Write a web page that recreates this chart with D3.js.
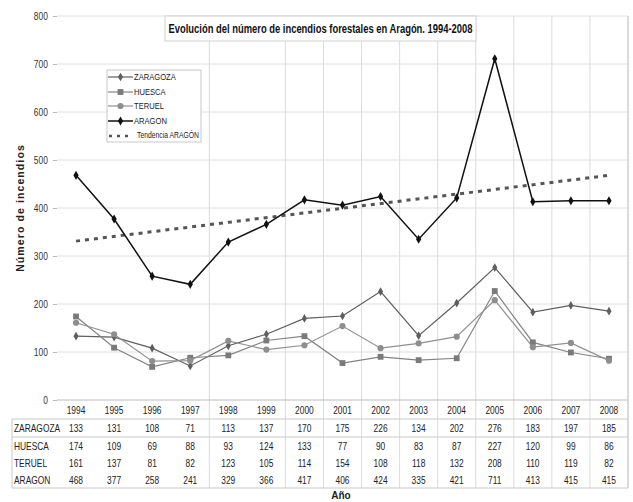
<!DOCTYPE html>
<html>
<head>
<meta charset="utf-8">
<script src="https://cdn.jsdelivr.net/npm/d3@7/dist/d3.min.js"></script>
<style>
  html, body { margin: 0; padding: 0; background: #fff; }
  svg { display: block; }
  text { font-family: "Liberation Sans", Arial, sans-serif; }
</style>
</head>
<body>
<svg id="chart" width="633" height="502"></svg>
<script>
// Forest fire counts per province, 1994-2008
const years = ["1994","1995","1996","1997","1998","1999","2000","2001","2002","2003","2004","2005","2006","2007","2008"];
const zaragoza = [133,131,108,71,113,137,170,175,226,134,202,276,183,197,185];
const huesca   = [174,109,69,88,93,124,133,77,90,83,87,227,120,99,86];
const teruel   = [161,137,81,82,123,105,114,154,108,118,132,208,110,119,82];
const aragon   = [468,377,258,241,329,366,417,406,424,335,421,711,413,415,415];
// Linear trend of the ARAGON series at the first and last year
const trendAragon = [331, 468];
const yTicks = [0,100,200,300,400,500,600,700,800];
// Category boundaries (by index) that carry a vertical grid line
const gridBoundaries = [4,6,7,8,9,10,11,12,13,14,15];

const seriesNames = ["ZARAGOZA","HUESCA","TERUEL","ARAGON"];
const seriesValues = [zaragoza, huesca, teruel, aragon];
const seriesStyle = [
  {line:"#5e5e5e", fill:"#5e5e5e", width:1.2, marker:"diamond", size:22},
  {line:"#838383", fill:"#7a7a7a", width:1.2, marker:"square", size:34},
  {line:"#909090", fill:"#8e8e8e", width:1.2, marker:"circle", size:30},
  {line:"#111111", fill:"#111111", width:1.5, marker:"diamond", size:24}
];
const symbolType = {diamond: d3.symbolDiamond, square: d3.symbolSquare, circle: d3.symbolCircle};

const svg = d3.select("#chart");
const plotL = 57, plotR = 628, plotT = 16, plotB = 400;
const tableTop = 419, tableBottom = 488, tableLeft = 12;
const NARROW = 0.84;

// Condense a text element horizontally around its own x anchor
function narrow(sel, s = NARROW) {
  sel.each(function () {
    const t = d3.select(this);
    const ax = +t.attr("x") || 0;
    t.attr("transform", `translate(${ax * (1 - s)},0) scale(${s},1)`);
  });
}

const x = d3.scaleBand().domain(years).range([plotL, plotR]);
const y = d3.scaleLinear().domain([0, 800]).range([plotB, plotT]);
const cx = d => x(d) + x.bandwidth() / 2;

// Horizontal grid lines
svg.append("g").selectAll("line").data(yTicks.filter(t => t > 0)).join("line")
  .attr("x1", plotL).attr("x2", plotR)
  .attr("y1", d => y(d)).attr("y2", d => y(d))
  .attr("stroke", "#dedede").attr("stroke-width", 1);

// Vertical grid lines running down through the data table
svg.append("g").selectAll("line").data(gridBoundaries).join("line")
  .attr("x1", i => plotL + i * x.bandwidth()).attr("x2", i => plotL + i * x.bandwidth())
  .attr("y1", plotT).attr("y2", tableBottom)
  .attr("stroke", "#dcdcdc").attr("stroke-width", 1);

// Y axis
const yAxis = svg.append("g").attr("transform", `translate(${plotL},0)`)
  .call(d3.axisLeft(y).tickValues(yTicks).tickSize(4).tickPadding(1));
yAxis.select(".domain").remove();
yAxis.selectAll(".tick line").attr("stroke", "#bbb");
yAxis.selectAll(".tick text").attr("font-size", 10).attr("fill", "#333")
  .attr("transform", `translate(-5,0) scale(${NARROW},1)`);
// zero line
svg.append("line").attr("x1", plotL).attr("x2", plotR).attr("y1", y(0)).attr("y2", y(0))
  .attr("stroke", "#bbb");

// Y axis title
svg.append("text")
  .attr("transform", `translate(24,${(plotT + plotB) / 2}) rotate(-90)`)
  .attr("text-anchor", "middle")
  .attr("font-size", 10.5).attr("font-weight", "bold")
  .attr("letter-spacing", 1.1).attr("fill", "#222")
  .text("Número de incendios");

// Trend line
svg.append("line")
  .attr("x1", cx(years[0])).attr("y1", y(trendAragon[0]))
  .attr("x2", cx(years[years.length - 1])).attr("y2", y(trendAragon[1]))
  .attr("stroke", "#555").attr("stroke-width", 3).attr("stroke-dasharray", "4,5");

// Series lines and markers
const lineGen = d3.line().x((d, i) => cx(years[i])).y(d => y(d));
seriesValues.forEach((vals, k) => {
  const st = seriesStyle[k];
  svg.append("path").datum(vals).attr("d", lineGen)
    .attr("fill", "none").attr("stroke", st.line).attr("stroke-width", st.width);
  svg.append("g").selectAll("path").data(vals).join("path")
    .attr("transform", (d, i) => `translate(${cx(years[i])},${y(d)})`)
    .attr("d", d3.symbol().type(symbolType[st.marker]).size(st.size))
    .attr("fill", st.fill);
});

// Title box
svg.append("rect").attr("x", 165).attr("y", plotT).attr("width", 311).attr("height", 25)
  .attr("fill", "#fff").attr("stroke", "#d0d0d0");
svg.append("text").attr("x", 320.5).attr("y", 33)
  .attr("text-anchor", "middle").attr("font-size", 12).attr("font-weight", "bold").attr("fill", "#111")
  .attr("textLength", 304).attr("lengthAdjust", "spacingAndGlyphs")
  .text("Evolución del número de incendios forestales en Aragón. 1994-2008");

// Legend
const lg = svg.append("g");
lg.append("rect").attr("x", 107).attr("y", 70).attr("width", 94).attr("height", 72)
  .attr("fill", "#fff").attr("stroke", "#c8c8c8");
const legendY = [77, 92, 106, 121];
seriesNames.forEach((name, k) => {
  const st = seriesStyle[k];
  lg.append("line").attr("x1", 108).attr("x2", 133).attr("y1", legendY[k]).attr("y2", legendY[k])
    .attr("stroke", st.line).attr("stroke-width", st.width);
  lg.append("path").attr("transform", `translate(120.5,${legendY[k]})`)
    .attr("d", d3.symbol().type(symbolType[st.marker]).size(st.size)).attr("fill", st.fill);
  lg.append("text").attr("x", 134).attr("y", legendY[k] + 3.5)
    .attr("font-size", 9.5).attr("fill", "#222").text(name).call(narrow, 0.8);
});
lg.append("line").attr("x1", 109).attr("x2", 133).attr("y1", 136).attr("y2", 136)
  .attr("stroke", "#555").attr("stroke-width", 2.5).attr("stroke-dasharray", "3,5");
lg.append("text").attr("x", 137).attr("y", 138.5)
  .attr("font-size", 8.5).attr("fill", "#222").text("Tendencia ARAGÓN").call(narrow, 0.8);

// Data table
const tbl = svg.append("g");
tbl.selectAll("text.year").data(years).join("text")
  .attr("class", "year").attr("x", d => cx(d)).attr("y", 414)
  .attr("text-anchor", "middle").attr("font-size", 10).attr("fill", "#222").text(d => d)
  .call(narrow);
const rowY = [432, 450, 467, 484];
[tableTop, 437, tableBottom].forEach(yy => {
  tbl.append("line").attr("x1", tableLeft).attr("x2", plotR).attr("y1", yy).attr("y2", yy)
    .attr("stroke", "#c8c8c8");
});
tbl.append("line").attr("x1", tableLeft).attr("x2", tableLeft).attr("y1", tableTop).attr("y2", tableBottom)
  .attr("stroke", "#c8c8c8");
tbl.append("line").attr("x1", plotR).attr("x2", plotR).attr("y1", plotT).attr("y2", tableBottom)
  .attr("stroke", "#c8c8c8");
seriesNames.forEach((name, k) => {
  tbl.append("text").attr("x", 14).attr("y", rowY[k])
    .attr("font-size", 10).attr("fill", "#222").text(name).call(narrow);
  tbl.selectAll(null).data(seriesValues[k]).join("text")
    .attr("x", (d, i) => cx(years[i])).attr("y", rowY[k])
    .attr("text-anchor", "middle").attr("font-size", 10).attr("fill", "#222").text(d => d)
    .call(narrow);
});

// X axis title
svg.append("text").attr("x", 341).attr("y", 499)
  .attr("text-anchor", "middle").attr("font-size", 10).attr("font-weight", "bold").attr("fill", "#222")
  .text("Año");
</script>
</body>
</html>
